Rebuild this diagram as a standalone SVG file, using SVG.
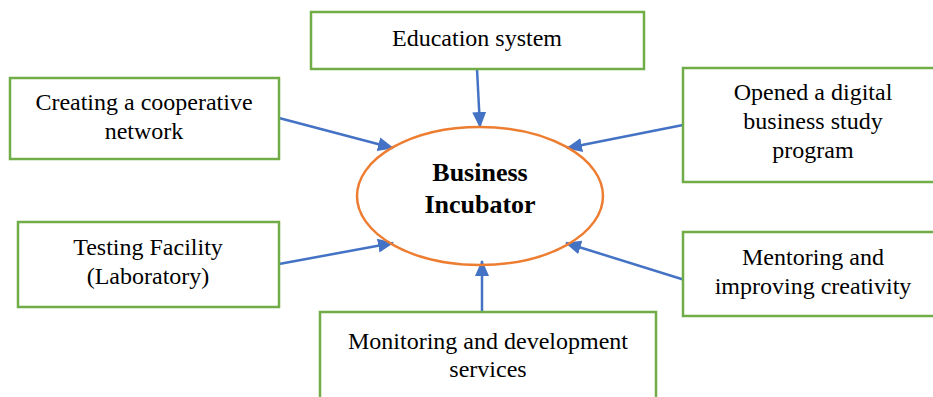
<svg xmlns="http://www.w3.org/2000/svg" width="933" height="397" viewBox="0 0 933 397">
<defs>
<marker id="ah" markerWidth="16" markerHeight="14" refX="15" refY="7" orient="auto" markerUnits="userSpaceOnUse">
<path d="M0,0 L16,7 L0,14 z" fill="#4472C4"/>
</marker>
</defs>
<rect width="933" height="397" fill="#fff"/>
<g id="connectors" stroke="#4472C4" stroke-width="2.5" fill="none">
<line x1="477" y1="69" x2="480" y2="127" marker-end="url(#ah)"/>
<line x1="279" y1="118" x2="393" y2="148" marker-end="url(#ah)"/>
<line x1="683" y1="125" x2="567" y2="148" marker-end="url(#ah)"/>
<line x1="279" y1="264" x2="393" y2="243" marker-end="url(#ah)"/>
<line x1="688" y1="281" x2="566" y2="243" marker-end="url(#ah)"/>
<line x1="482" y1="312" x2="482" y2="261" marker-end="url(#ah)"/>
</g>
<g id="center">
<ellipse cx="480" cy="196" rx="123" ry="69" fill="none" stroke="#ED7D31" stroke-width="2.5"/>
<text x="480" y="181" font-family="Liberation Serif" font-size="26" font-weight="bold" text-anchor="middle">Business</text>
<text x="480" y="213" font-family="Liberation Serif" font-size="26" font-weight="bold" text-anchor="middle">Incubator</text>
</g>
<g id="education">
<rect x="311" y="12" width="333" height="57" fill="#fff" stroke="#70AD47" stroke-width="2.5"/>
<text x="477" y="46" font-family="Liberation Serif" font-size="24" text-anchor="middle">Education system</text>
</g>
<g id="cooperative">
<rect x="10" y="78" width="269" height="81" fill="#fff" stroke="#70AD47" stroke-width="2.5"/>
<text x="144" y="110" font-family="Liberation Serif" font-size="24" text-anchor="middle">Creating a cooperative</text>
<text x="144" y="139" font-family="Liberation Serif" font-size="24" text-anchor="middle">network</text>
</g>
<g id="digital">
<rect x="683" y="68" width="252" height="114" fill="#fff" stroke="#70AD47" stroke-width="2.5"/>
<text x="813" y="100" font-family="Liberation Serif" font-size="24" text-anchor="middle">Opened a digital</text>
<text x="813" y="129" font-family="Liberation Serif" font-size="24" text-anchor="middle">business study</text>
<text x="813" y="158" font-family="Liberation Serif" font-size="24" text-anchor="middle">program</text>
</g>
<g id="testing">
<rect x="18" y="222" width="261" height="85" fill="#fff" stroke="#70AD47" stroke-width="2.5"/>
<text x="148" y="255" font-family="Liberation Serif" font-size="24" text-anchor="middle">Testing Facility</text>
<text x="148" y="284" font-family="Liberation Serif" font-size="24" text-anchor="middle">(Laboratory)</text>
</g>
<g id="mentoring">
<rect x="683" y="232" width="252" height="84" fill="#fff" stroke="#70AD47" stroke-width="2.5"/>
<text x="813" y="265" font-family="Liberation Serif" font-size="24" text-anchor="middle">Mentoring and</text>
<text x="813" y="294" font-family="Liberation Serif" font-size="24" text-anchor="middle">improving creativity</text>
</g>
<g id="monitoring">
<rect x="320" y="312" width="336" height="90" fill="#fff" stroke="#70AD47" stroke-width="2.5"/>
<text x="488" y="349" font-family="Liberation Serif" font-size="24" text-anchor="middle">Monitoring and development</text>
<text x="488" y="377" font-family="Liberation Serif" font-size="24" text-anchor="middle">services</text>
</g>
</svg>
